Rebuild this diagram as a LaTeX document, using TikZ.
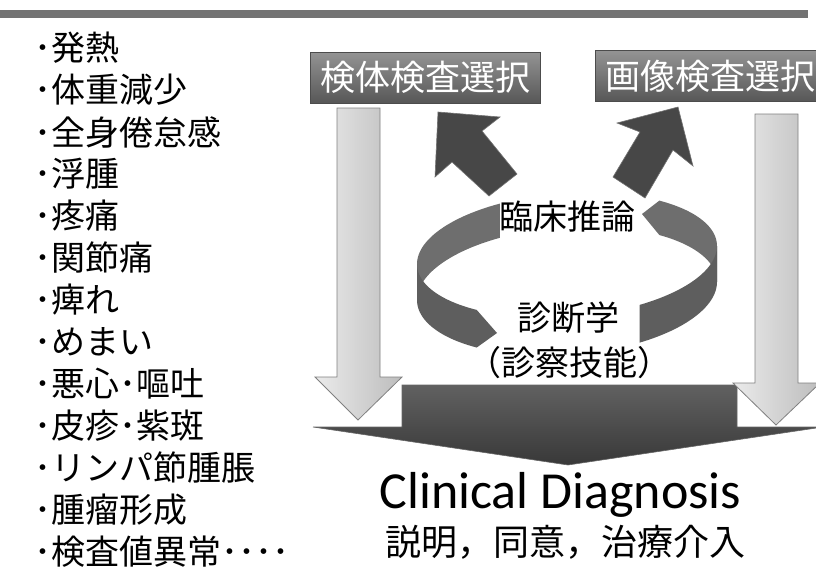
\documentclass[tikz,border=0pt]{standalone}
\usepackage{fontspec}
\newfontfamily\jpfont{Noto Sans CJK JP}
\newfontfamily\jphalt[RawFeature=+halt]{Noto Sans CJK JP}
\newfontfamily\cdfont{Carlito}
\begin{document}
\begin{tikzpicture}[x=1pt,y=-1pt,
  listitem/.style={anchor=west,inner sep=0pt,font=\jpfont\fontsize{34}{34}\selectfont},
  selbox/.style={draw=black!70,top color=black!42,bottom color=black!66,inner sep=0pt,minimum height=51pt,minimum width=230pt,text=white,font=\jpfont\fontsize{35}{35}\selectfont},
  downarrow/.style={draw=black!50,line width=0.8pt,left color=black!8,right color=black!26},
  bigarrow/.style={draw=black!60,line width=0.6pt,top color=black!62,bottom color=black!78},
  uparrow/.style={draw=black!55,line width=0.6pt,fill=black!72},
  ringback/.style={fill=black!57},
  ringfront/.style={fill=black!63},
  ringlabel/.style={inner sep=0pt,font=\jpfont\fontsize{34}{34}\selectfont}]
\useasboundingbox (0,0) rectangle (816,571);
\clip (0,0) rectangle (816,571);
%\draw[step=10pt,gray,very thin] (0,0) grid (816,571); %background grid

\fill[black!55] (0,10) rectangle (808,18);

\node[selbox] (kentai) at (425,77.5) {検体検査選択};
\node[selbox] (gazou) at (710,76) {画像検査選択};

\draw[downarrow] (337,108)--(380,108)--(380,377)--(402,377)--(358,420)--(315,377)--(337,377)--cycle;
\draw[bigarrow] (402,385)--(737,385)--(737,427)--(823,427)--(568,465)--(313,427)--(402,427)--cycle;
\draw[downarrow] (755,114)--(798,114)--(798,383)--(820,383)--(776,425)--(733,383)--(755,383)--cycle;

\draw[uparrow] (438,112)--(500,117)--(482,131)--(517,174)--(489,196)--(452,162)--(435,177)--cycle;
\draw[uparrow] (678,107)--(693,166)--(673,150)--(645,198)--(613,177)--(640,132)--(617,123)--cycle;

\coordinate (ringtipL) at (497,333);
\coordinate (ringtipR) at (642,214);
\fill[ringback] plot[domain=180:243.4,samples=30] ({567+150*cos(\x)},{255+62*sin(\x)-9*cos(\x)})
  -- plot[domain=243.4:180,samples=30] ({567+150*cos(\x)},{291+64*sin(\x)-9*cos(\x)}) -- cycle;
\fill[ringfront] plot[domain=127:180,samples=30] ({567+150*cos(\x)},{255+62*sin(\x)-9*cos(\x)})
  -- plot[domain=180:127,samples=30] ({567+150*cos(\x)},{291+64*sin(\x)-9*cos(\x)}) -- (ringtipL) -- cycle;
\fill[ringback] (ringtipR) -- plot[domain=308:360,samples=30] ({567+150*cos(\x)},{255+62*sin(\x)-9*cos(\x)})
  -- plot[domain=360:308,samples=30] ({567+150*cos(\x)},{291+64*sin(\x)-9*cos(\x)}) -- cycle;
\fill[ringfront] plot[domain=0:61,samples=30] ({567+150*cos(\x)},{255+62*sin(\x)-9*cos(\x)})
  -- plot[domain=61:0,samples=30] ({567+150*cos(\x)},{291+64*sin(\x)-9*cos(\x)}) -- cycle;

\node[ringlabel] (rinsho) at (567,217) {臨床推論};
\node[ringlabel] (shindan) at (568,318) {診断学};
\node[ringlabel] (shinsatsu) at (569,363) {{\jphalt （}診察技能{\jphalt ）}};

\node[anchor=base,inner sep=0pt,font=\cdfont\fontsize{52}{52}\selectfont] (cdx) at (560.5,508) {Clinical Diagnosis};
\node[inner sep=0pt,font=\jpfont\fontsize{36}{36}\selectfont] (kainyu) at (565,542) {説明，同意，治療介入};

\node[listitem] (sx1) at (34.5,48) {･発熱};
\node[listitem] (sx2) at (34.5,90) {･体重減少};
\node[listitem] (sx3) at (34.5,132) {･全身倦怠感};
\node[listitem] (sx4) at (34.5,174) {･浮腫};
\node[listitem] (sx5) at (34.5,216) {･疼痛};
\node[listitem] (sx6) at (34.5,258) {･関節痛};
\node[listitem] (sx7) at (34.5,300) {･痺れ};
\node[listitem] (sx8) at (34.5,342) {･めまい};
\node[listitem] (sx9) at (34.5,384) {･悪心･嘔吐};
\node[listitem] (sx10) at (34.5,426) {･皮疹･紫斑};
\node[listitem] (sx11) at (34.5,468) {･リンパ節腫脹};
\node[listitem] (sx12) at (34.5,510) {･腫瘤形成};
\node[listitem] (sx13) at (34.5,552) {･検査値異常････};

\end{tikzpicture}
\end{document}
